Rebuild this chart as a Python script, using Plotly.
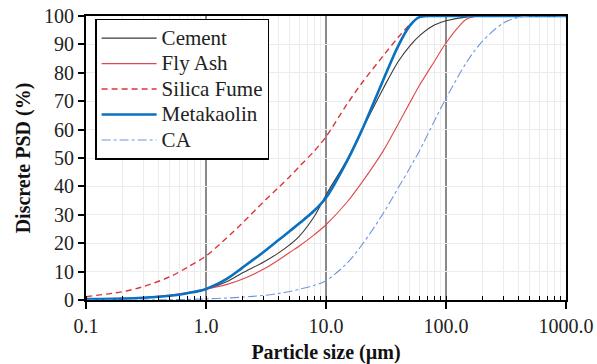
import plotly.graph_objects as go

# ---- data ----
size_um = [0.1, 0.2, 0.3, 0.5, 0.7, 1, 1.5, 2, 3, 4, 5, 6, 8, 10, 15, 20, 30, 40, 50, 60, 80,
           100, 150, 200, 300, 400, 500, 1000]
cement = [0.3, 0.5, 0.8, 1.5, 2.4, 3.8, 6.5, 9.5, 13.3, 16.5, 19.5, 22.5, 29.5, 37.0, 49.5,
          60.0, 74.5, 84.0, 89.5, 93.0, 96.8, 98.3, 99.7, 100, 100, 100, 100, 100]
fly_ash = [0.3, 0.6, 0.9, 1.7, 2.6, 3.8, 5.5, 7.3, 10.8, 14.0, 16.8, 19.0, 23.0, 26.5, 34.5,
           41.5, 52.5, 62.0, 69.5, 75.5, 84.0, 90.5, 99.0, 100, 100, 100, 100, 100]
silica_fume = [1.2, 2.9, 4.7, 8.2, 11.5, 15.5, 22.0, 27.0, 34.5, 39.5, 43.5, 47.0, 52.5, 57.5,
               69.0, 76.5, 86.0, 92.5, 97.0, 99.5, 100, 100, 100, 100, 100, 100, 100, 100]
metakaolin = [0.3, 0.5, 0.8, 1.5, 2.4, 3.9, 7.5, 11.3, 16.8, 21.0, 24.3, 27.0, 31.5, 36.0,
              49.0, 60.0, 77.5, 89.5, 96.6, 99.6, 100, 100, 100, 100, 100, 100, 100, 100]
ca = [0.0, 0.0, 0.0, 0.1, 0.2, 0.4, 0.7, 1.0, 1.6, 2.3, 3.0, 3.8, 5.2, 6.8, 13.0, 19.5, 30.5,
      39.5, 46.5, 52.5, 63.0, 71.0, 84.0, 91.0, 97.5, 99.5, 100, 100]

x_tickvals = [0.1, 1, 10, 100, 1000]
x_ticktext = ["0.1", "1.0", "10.0", "100.0", "1000.0"]
y_tickvals = [0, 10, 20, 30, 40, 50, 60, 70, 80, 90, 100]

series = [
    ("Cement", cement, dict(color="#3a3a3a", width=1.1, dash="solid")),
    ("Fly Ash", fly_ash, dict(color="#e0484c", width=1.1, dash="solid")),
    ("Silica Fume", silica_fume, dict(color="#d9363b", width=1.4, dash="6px,4px")),
    ("Metakaolin", metakaolin, dict(color="#0a70c0", width=2.6, dash="solid")),
    ("CA", ca, dict(color="#6f96e0", width=1.1, dash="dashdot")),
]

FONT = "Liberation Serif"

fig = go.Figure()
for name, vals, ln in series:
    fig.add_trace(go.Scatter(x=size_um, y=vals, mode="lines",
                             name=f'<span style="font-size:21px">{name}</span>',
                             line=dict(shape="spline", smoothing=0.9, **ln)))

fig.update_layout(
    width=597, height=364,
    margin=dict(l=86, r=31, t=16, b=64),
    paper_bgcolor="white", plot_bgcolor="white",
    font=dict(family=FONT, size=20, color="#222222"),
    showlegend=True,
    legend=dict(x=0.019, y=0.99, xanchor="left", yanchor="top",
                bgcolor="white", bordercolor="black", borderwidth=1.5,
                font=dict(family=FONT, size=17.3, color="#222222"),
                itemwidth=55, traceorder="normal"),
    xaxis=dict(type="log", range=[-1, 3], automargin=False,
               tickvals=x_tickvals, ticktext=x_ticktext,
               showgrid=True, gridcolor="#8a8a8a", gridwidth=2,
               ticks="outside", ticklen=7, tickwidth=1.5, tickcolor="black",
               minor=dict(dtick="D1", showgrid=True, gridcolor="#ececec", gridwidth=1,
                          ticks="inside", ticklen=4, tickwidth=1.2, tickcolor="black"),
               showline=True, linecolor="black", linewidth=2, mirror=True,
               zeroline=False,
               title=dict(text="<b>Particle size (µm)</b>", standoff=12,
                          font=dict(family=FONT, size=20, color="#111111"))),
    yaxis=dict(range=[0, 100], tickvals=y_tickvals, automargin=False,
               showgrid=True, gridcolor="#ececec", gridwidth=1,
               ticks="outside", ticklen=6, tickwidth=1.5, tickcolor="black",
               showline=True, linecolor="black", linewidth=2, mirror=True,
               zeroline=False,
               title=dict(text="<b>Discrete PSD (%)</b>", standoff=8,
                          font=dict(family=FONT, size=20, color="#111111"))),
)

fig.write_html("out.html")
